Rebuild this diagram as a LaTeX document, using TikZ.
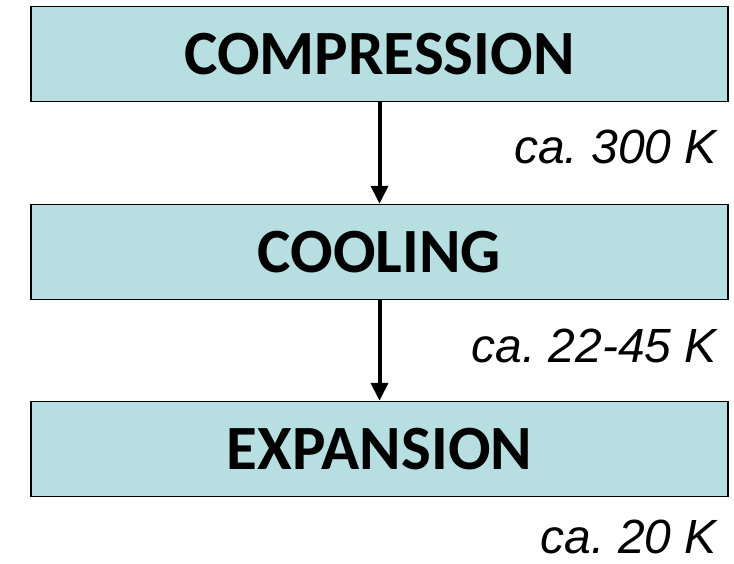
\documentclass[tikz,border=0pt]{standalone}
\usepackage{fontspec}
\setmainfont{Carlito}
\newfontfamily\tempfont{Liberation Sans}
\usetikzlibrary{arrows.meta}
\definecolor{stagefill}{RGB}{183,223,226}
\frenchspacing

\begin{document}
\begin{tikzpicture}[x=1pt,y=-1pt,
    stage/.style={draw, line width=1.5pt, fill=stagefill, inner sep=0pt,
      minimum width=697pt, minimum height=95pt,
      font=\fontsize{63}{63}\selectfont\bfseries},
    temp/.style={anchor=base east, inner sep=0pt,
      font=\tempfont\itshape\fontsize{48}{48}\selectfont},
    flow/.style={line width=4pt, -{Triangle[width=17pt,length=18pt]}}]
    \useasboundingbox (0,0) rectangle (734,563);
    % stages
    \node[stage] (comp) at (379.5,54) {COMPRESSION};
    \node[stage] (cool) at (379.5,252) {COOLING};
    \node[stage] (exp) at (379.5,449) {EXPANSION};
    % temperatures
    \node[temp] (t1) at (717,163) {ca. 300 K};
    \node[temp] (t2) at (717,362) {ca. 22-45 K};
    \node[temp] (t3) at (717,553) {ca. 20 K};
    % arrows
    \draw[flow] (comp) -- (cool);
    \draw[flow] (cool) -- (exp);
  \end{tikzpicture}
\end{document}
